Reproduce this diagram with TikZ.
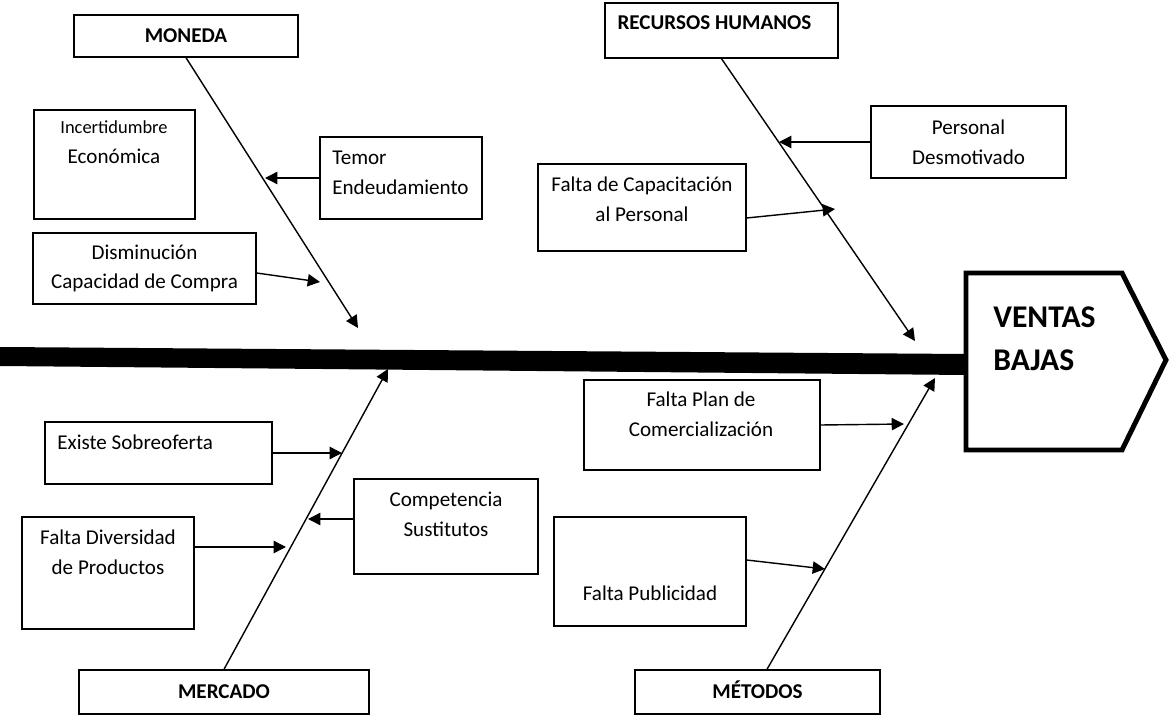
\documentclass[tikz,border=0pt]{standalone}
\usepackage{fontspec}
\setmainfont{Carlito}
\usetikzlibrary{arrows.meta, positioning}

\begin{document}
\begin{tikzpicture}[x=0.02cm, y=-0.02cm,
    box/.style={rectangle, draw, line width=0.8pt, inner sep=0pt, align=center, font=\fontsize{12}{17}\selectfont},
    txt/.style={inner sep=0pt, align=center, font=\fontsize{12}{17}\selectfont},
    head/.style={inner sep=0pt, text height=7.7pt, text depth=0pt, font=\fontsize{12}{14}\selectfont\bfseries},
    arrow/.style={line width=0.8pt, -{Triangle[length=7pt,width=7pt]}}]

    \useasboundingbox (0,0) rectangle (1174,716);

    % espina y cabeza
    \fill (0,347) -- (966,354) -- (966,375) -- (0,366) -- cycle;
    \draw [line width=2.8pt, line join=miter] (966,273) -- (1122,273) -- (1166,360) -- (1122,450) -- (966,450) -- cycle;
    \node [anchor=west, align=left, inner sep=0pt, font=\fontsize{18}{24.5}\selectfont\bfseries] (ventas) at (993,338.5) {VENTAS\\BAJAS};

    % categorias
    \node [box, minimum width=4.48cm, minimum height=0.84cm, head] (moneda) at (186,36) {MONEDA};
    \node [box, minimum width=4.66cm, minimum height=1.1cm] (rh) at (721.5,30.5) {};
    \node [head] (rht) at (714.5,23) {RECURSOS HUMANOS};
    \node [box, minimum width=5.8cm, minimum height=0.88cm, head] (mercado) at (224,692) {MERCADO};
    \node [box, minimum width=4.9cm, minimum height=0.88cm, head] (metodos) at (757.5,692) {MÉTODOS};

    % causas moneda
    \node [box, minimum width=3.22cm, minimum height=2.18cm] (incert) at (114.5,164.5) {};
    \node [txt] (incertt) at (114,142) {{\fontsize{10.5}{12}\selectfont Incertidumbre}\\Económica};
    \node [box, minimum width=3.24cm, minimum height=1.64cm] (temor) at (401,178) {};
    \node [txt, anchor=west, align=left] (temort) at (332,173) {Temor\\Endeudamiento};
    \node [box, minimum width=4.46cm, minimum height=1.42cm] (dismin) at (144.5,268.5) {Disminución\\Capacidad de Compra};

    % causas recursos humanos
    \node [box, minimum width=3.9cm, minimum height=1.44cm] (personal) at (968.5,142) {Personal\\Desmotivado};
    \node [box, minimum width=4.16cm, minimum height=1.74cm] (capacit) at (642,207.5) {};
    \node [txt] (capacitt) at (642,199.5) {Falta de Capacitación\\al Personal};

    % causas mercado
    \node [box, minimum width=4.54cm, minimum height=1.24cm] (sobre) at (158.5,453) {};
    \node [txt, anchor=west] (sobret) at (57,442) {Existe Sobreoferta};
    \node [box, minimum width=3.68cm, minimum height=1.9cm] (compet) at (446,526.5) {};
    \node [txt] (compett) at (446,514) {Competencia\\Sustitutos};
    \node [box, minimum width=3.44cm, minimum height=2.24cm] (divers) at (108,573) {};
    \node [txt] (diverst) at (108,552) {Falta Diversidad\\de Productos};

    % causas metodos
    \node [box, minimum width=4.72cm, minimum height=1.8cm] (plan) at (702,425) {};
    \node [txt] (plant) at (701,414.5) {Falta Plan de\\Comercialización};
    \node [box, minimum width=3.84cm, minimum height=2.18cm] (public) at (650,571.5) {};
    \node [txt] (publict) at (650,593) {Falta Publicidad};

    % puntos sobre las espinas
    \coordinate (mtip) at (358,328);
    \coordinate (rtip) at (915,341);
    \coordinate (ktip) at (388,369);
    \coordinate (ttip) at (935,378);
    \coordinate (m1) at (265,178);
    \coordinate (m2) at (320,282);
    \coordinate (r1) at (779,142);
    \coordinate (r2) at (835,209);
    \coordinate (k1) at (342,453);
    \coordinate (k2) at (308,519);
    \coordinate (k3) at (286,547);
    \coordinate (t1) at (904,424);
    \coordinate (t2) at (825,569);

    \draw [arrow] (moneda.south) -- (mtip);
    \draw [arrow] (rh.south) -- (rtip);
    \draw [arrow] (mercado.north) -- (ktip);
    \draw [arrow] ([xshift=0.19cm]metodos.north) -- (ttip);

    \draw [arrow] (temor.west) -- (m1);
    \draw [arrow] ([yshift=-0.09cm]dismin.east) -- (m2);
    \draw [arrow] (personal.west) -- (r1);
    \draw [arrow] ([yshift=-0.21cm]capacit.east) -- (r2);
    \draw [arrow] (sobre.east) -- (k1);
    \draw [arrow] (compet.west |- k2) -- (k2);
    \draw [arrow] (divers.east |- k3) -- (k3);
    \draw [arrow] (plan.east) -- (t1);
    \draw [arrow] ([yshift=0.23cm]public.east) -- (t2);
\end{tikzpicture}
\end{document}
